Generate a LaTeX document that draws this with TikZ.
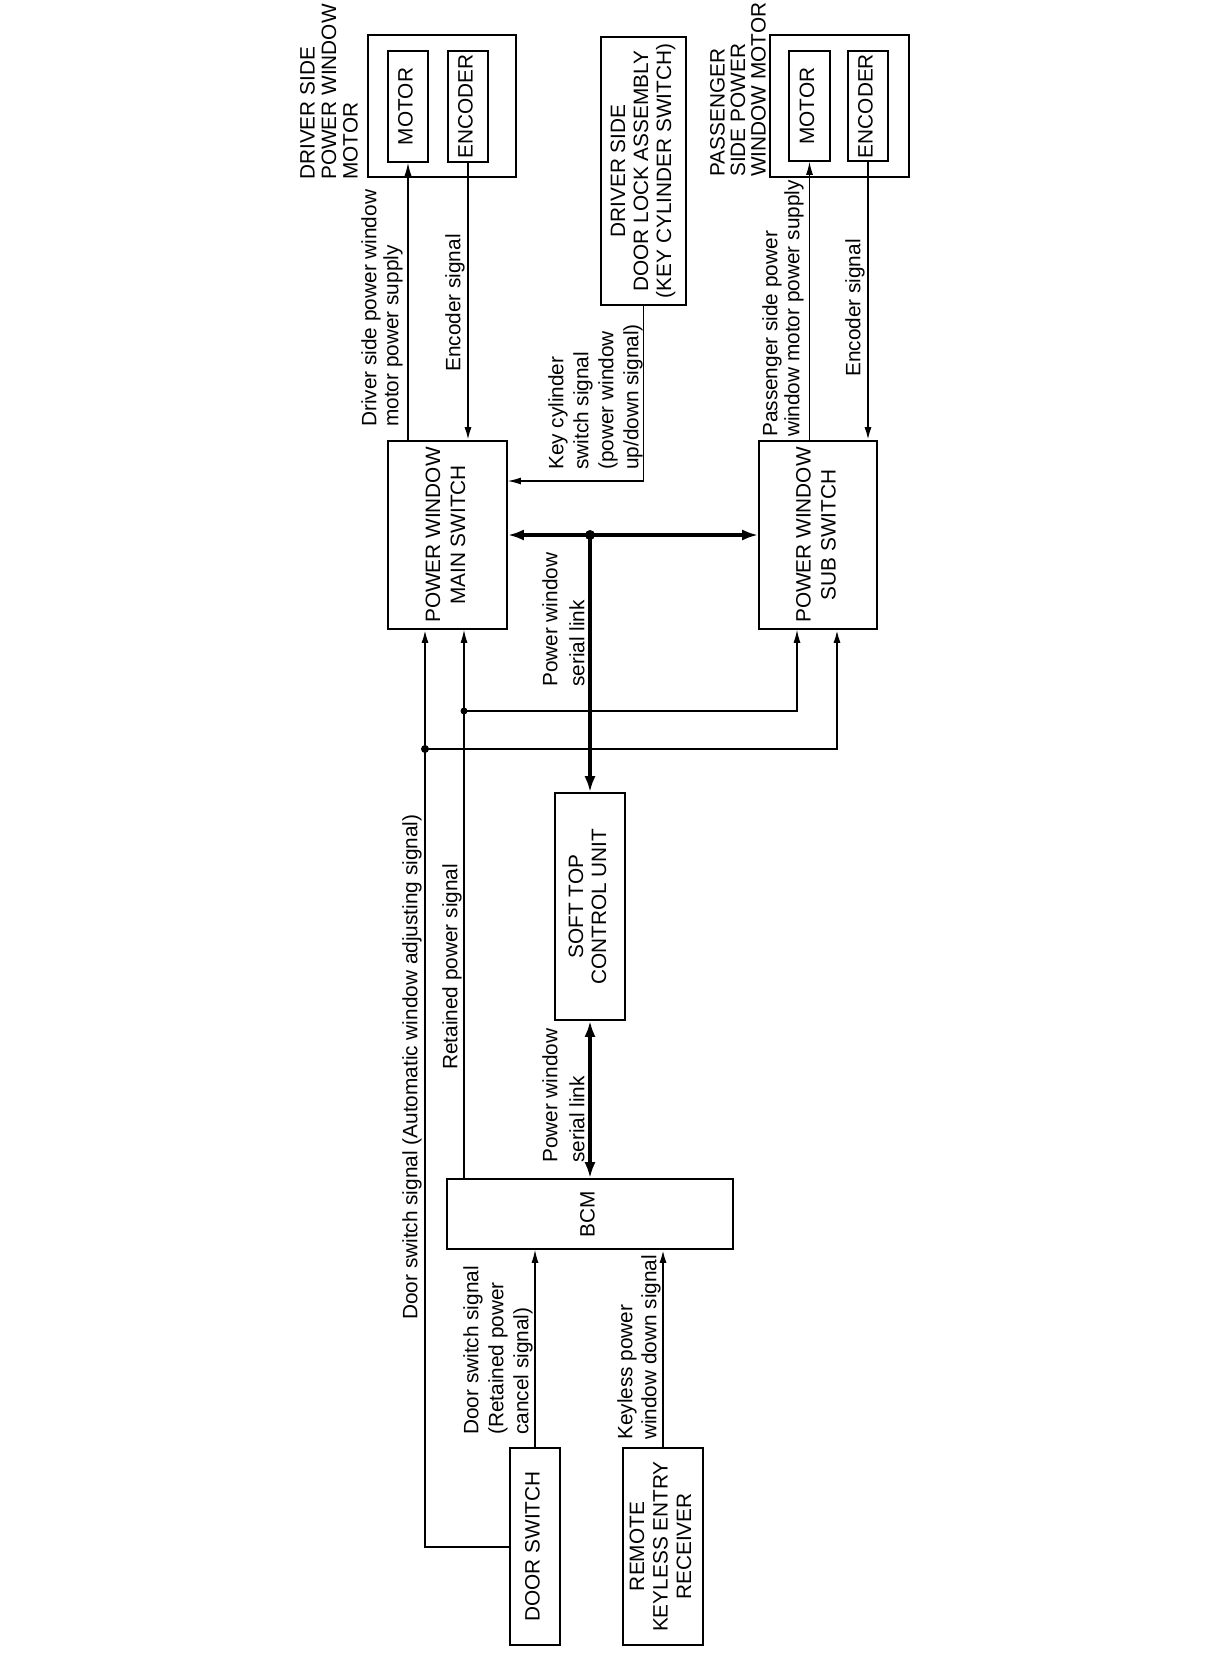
\documentclass[tikz,border=0pt]{standalone}
\usepackage{fontspec}
\usepackage{graphicx}
\setmainfont{Liberation Sans}
\usetikzlibrary{arrows.meta}
\newcommand{\rottext}[2][23]{\rotatebox{90}{\fontsize{20.8}{#1}\selectfont\begin{tabular}{@{}c@{}}#2\end{tabular}}}
\begin{document}
\begin{tikzpicture}[x=1pt,y=-1pt,
  box/.style={draw, line width=1.6pt, inner sep=0pt},
  lbl/.style={rotate=90, align=left, inner sep=0pt, font=\fontsize{20.8}{#1}\selectfont},
  lbl/.default=24,
  thinl/.style={line width=1.2pt},
  medl/.style={line width=2pt},
  thickl/.style={line width=4.6pt},
  arr/.style={-{Latex[length=13pt,width=7pt]}},
  tarr/.style={{Latex[length=16pt,width=11pt]}-{Latex[length=16pt,width=11pt]}},
  tend/.style={-{Latex[length=16pt,width=11pt]}}
]
\useasboundingbox[fill=white] (0,0) rectangle (1216,1660);

% boxes
\node[box, minimum width=148pt, minimum height=142pt] (dmo) at (442,106) {};
\node[box, minimum width=40pt, minimum height=111pt] (dmot) at (408,106.5) {\rottext{MOTOR}};
\node[box, minimum width=40pt, minimum height=111pt] (denc) at (468,106.5) {\rottext{ENCODER}};
\node[box, minimum width=85pt, minimum height=268pt] (dl) at (643.5,171) {\rottext{DRIVER SIDE\\DOOR LOCK ASSEMBLY\\(KEY CYLINDER SWITCH)}};
\node[box, minimum width=139pt, minimum height=142pt] (pmo) at (839.5,106) {};
\node[box, minimum width=41pt, minimum height=110pt] (pmot) at (809.5,106) {\rottext{MOTOR}};
\node[box, minimum width=40pt, minimum height=110pt] (penc) at (868,106) {\rottext{ENCODER}};
\node[box, minimum width=119pt, minimum height=188pt] (ms) at (447.5,535) {\rottext[25]{POWER WINDOW\\MAIN SWITCH}};
\node[box, minimum width=118pt, minimum height=188pt] (ss) at (818,535) {\rottext[25]{POWER WINDOW\\SUB SWITCH}};
\node[box, minimum width=70pt, minimum height=227pt] (st) at (590,906.5) {\rottext{SOFT TOP\\CONTROL UNIT}};
\node[box, minimum width=286pt, minimum height=70pt] (bcm) at (590,1214) {\rottext{BCM}};
\node[box, minimum width=50pt, minimum height=197pt] (dsw) at (535,1546.5) {\rottext{DOOR SWITCH}};
\node[box, minimum width=80pt, minimum height=197pt] (rke) at (663,1546.5) {\rottext[23.5]{REMOTE\\KEYLESS ENTRY\\RECEIVER}};

% labels
\node[lbl=21.5, anchor=north west] (tdm) at (300,180) {DRIVER SIDE\\POWER WINDOW\\MOTOR};
\node[lbl=20.5, anchor=north west] (tpm) at (710,177) {PASSENGER\\SIDE POWER\\WINDOW MOTOR};
\node[lbl=22, anchor=north west] (tds) at (361,427) {Driver side power window\\motor power supply};
\node[lbl, anchor=north west] (tde) at (445,372) {Encoder signal};
\node[lbl=25, anchor=north west] (tkc) at (548,470) {Key cylinder\\switch signal\\(power window\\up/down signal)};
\node[lbl=27, anchor=north west] (tsl1) at (542,687) {Power window\\serial link};
\node[lbl=27, anchor=north west] (tsl2) at (542,1163) {Power window\\serial link};
\node[lbl=22, anchor=north west] (tps) at (762,437) {Passenger side power\\window motor power supply};
\node[lbl, anchor=north west] (tpe) at (845,377) {Encoder signal};
\node[lbl, anchor=north west] (trp) at (442,1070) {Retained power signal};
\node[lbl, anchor=north west] (tdsa) at (402,1320) {Door switch signal (Automatic window adjusting signal)};
\node[lbl=25, anchor=north west] (tdsc) at (463,1435) {Door switch signal\\(Retained power\\cancel signal)};
\node[lbl=24, anchor=north west] (tkl) at (617,1440) {Keyless power\\window down signal};

% motor connections
\draw[thinl, arr] (dmot.south |- ms.north) -- (dmot.south);
\draw[medl, arr] (denc.south) -- (denc.south |- ms.north);
\draw[thinl, arr] (pmot.south |- ss.north) -- (pmot.south);
\draw[medl, arr] (penc.south) -- (penc.south |- ss.north);

% key cylinder
\coordinate (kcy) at (0,481);
\draw[thinl, arr] (dl.south) |- (kcy -| ms.east);

% serial link
\coordinate (j) at (st.north |- ms.east);
\draw[thickl, tarr] (ms.east) -- (ss.west);
\draw[thickl, tend] (j) -- (st.north);
\fill (j) circle[radius=5pt];
\draw[thickl, tarr] (st.south) -- (st.south |- bcm.north);

% retained power
\coordinate (rp) at (464,711);
\coordinate (rps) at (797,711);
\draw[thinl, arr] (rp |- bcm.north) -- (rp |- ms.south);
\draw[thinl, arr] (rp) -- (rps) -- (rps |- ss.south);
\fill (rp) circle[radius=3.5pt];

% door switch (automatic window adjusting)
\coordinate (da) at (425,749);
\coordinate (das) at (837,749);
\coordinate (dab) at (425,1547);
\draw[medl, arr] (dab -| dsw.west) -- (dab) -- (dab |- ms.south);
\draw[medl, arr] (da) -- (das) -- (das |- ss.south);
\fill (da) circle[radius=4pt];

% door switch cancel and keyless
\draw[thinl, arr] (dsw.north) -- (dsw.north |- bcm.south);
\draw[medl, arr] (rke.north) -- (rke.north |- bcm.south);
\end{tikzpicture}
\end{document}
